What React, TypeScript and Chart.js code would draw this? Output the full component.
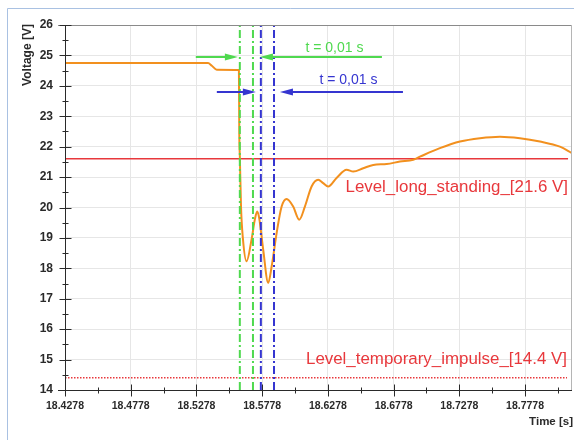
import React, { useEffect, useRef } from "react";
import { Chart, registerables } from "chart.js";
Chart.register(...registerables);

// ---- data ----
const timeTicks = [18.4278, 18.4778, 18.5278, 18.5778, 18.6278, 18.6778, 18.7278, 18.7778];
const voltTicks = [14, 15, 16, 17, 18, 19, 20, 21, 22, 23, 24, 25, 26];
const xRange = [18.4278, 18.8135];
const yRange = [14, 26];

const timeS = [
  18.4278, 18.5366, 18.5395, 18.5433, 18.5601, 18.5604, 18.5608, 18.5617, 18.5631, 18.5659,
  18.5697, 18.5722, 18.574, 18.5755, 18.5786, 18.5824, 18.585, 18.5888, 18.5926, 18.5964,
  18.6014, 18.606, 18.6103, 18.6154, 18.6204, 18.6242, 18.628, 18.6344, 18.642, 18.6471,
  18.6547, 18.6623, 18.6725, 18.6826, 18.6927, 18.6978, 18.713, 18.7283, 18.7435, 18.7587,
  18.7739, 18.7891, 18.8043, 18.8135,
];
const voltageV = [
  24.75, 24.75, 24.66, 24.53, 24.52, 22.4, 21.7, 20.03, 19.0, 18.23,
  18.94, 19.6, 19.87, 19.66, 18.61, 17.52, 18.06, 19.16, 20.03, 20.28,
  20.03, 19.6, 20.03, 20.69, 20.91, 20.8, 20.69, 20.97, 21.24, 21.18,
  21.29, 21.4, 21.43, 21.51, 21.57, 21.67, 21.95, 22.17, 22.28, 22.33,
  22.28, 22.17, 22.0, 21.79,
];

const levelValues = [21.6, 14.4];
const levelEnds = [18.8105, 18.8097];
const levelLabels = ["Level_long_standing_[21.6 V]", "Level_temporary_impulse_[14.4 V]"];
const levelLabelY = [20.65, 15.0];

const greenCursors = [18.5608, 18.5708];
const blueCursors = [18.5768, 18.5868];

const arrowY = [24.95, 23.8]; // green, blue
const arrowInFrom = [18.5273, 18.5433];
const arrowInTo = [18.5593, 18.573];
const arrowOutFrom = [18.6689, 18.6849];
const arrowOutTo = [18.5761, 18.5913];
const arrowLabel = ["t = 0,01 s", "t = 0,01 s"];
const arrowLabelX = [18.6328, 18.6434];
const arrowLabelY = [25.24, 24.19];

const GREEN = "#4fd94f";
const BLUE = "#3535d0";
const RED = "#e8383c";
const ORANGE = "#f2901e";
const FONT = "'Liberation Sans', Arial, sans-serif";

function arrow(ctx: CanvasRenderingContext2D, x1: number, x2: number, y: number, color: string) {
  const dir = x2 > x1 ? 1 : -1;
  const head = 13;
  ctx.save();
  ctx.strokeStyle = color;
  ctx.fillStyle = color;
  ctx.lineWidth = 2;
  ctx.beginPath();
  ctx.moveTo(x1, y);
  ctx.lineTo(x2 - dir * head * 0.8, y);
  ctx.stroke();
  ctx.beginPath();
  ctx.moveTo(x2, y);
  ctx.lineTo(x2 - dir * head, y - 3.5);
  ctx.lineTo(x2 - dir * head, y + 3.5);
  ctx.closePath();
  ctx.fill();
  ctx.restore();
}

const decorPlugin = {
  id: "decor",
  beforeDraw(chart: any) {
    const ctx = chart.ctx as CanvasRenderingContext2D;
    ctx.save();
    ctx.fillStyle = "#ffffff";
    ctx.fillRect(0, 0, chart.width, chart.height);
    ctx.strokeStyle = "#a9c1e2";
    ctx.lineWidth = 1;
    ctx.beginPath();
    ctx.moveTo(7.5, chart.height);
    ctx.lineTo(7.5, 8.5);
    ctx.lineTo(chart.width, 8.5);
    ctx.stroke();
    ctx.restore();
  },
  afterDraw(chart: any) {
    const ctx = chart.ctx as CanvasRenderingContext2D;
    const xs = chart.scales.x;
    const ys = chart.scales.y;
    const { left, right, top, bottom } = chart.chartArea;
    const L = Math.round(left) + 0.5;
    const B = Math.round(bottom) + 0.5;
    ctx.save();
    // frame lines
    ctx.lineWidth = 1;
    ctx.strokeStyle = "#8a8a8a";
    ctx.beginPath();
    ctx.moveTo(left - 7, Math.round(top) + 0.5);
    ctx.lineTo(right, Math.round(top) + 0.5);
    ctx.stroke();
    ctx.strokeStyle = "#b5b5b5";
    ctx.beginPath();
    ctx.moveTo(Math.round(right) - 0.5, top);
    ctx.lineTo(Math.round(right) - 0.5, bottom);
    ctx.stroke();
    // axes
    ctx.strokeStyle = "#2a2a2a";
    ctx.beginPath();
    ctx.moveTo(L, top);
    ctx.lineTo(L, B);
    ctx.moveTo(left - 7, B);
    ctx.lineTo(right, B);
    ctx.stroke();
    // y ticks
    ctx.beginPath();
    for (const v of voltTicks) {
      const p = Math.round(ys.getPixelForValue(v)) + 0.5;
      ctx.moveTo(L - 6, p);
      ctx.lineTo(L + 6, p);
      if (v < yRange[1]) {
        const m = Math.round(ys.getPixelForValue(v + 0.5)) + 0.5;
        ctx.moveTo(L - 3, m);
        ctx.lineTo(L + 3, m);
      }
    }
    // x ticks
    for (let i = 0; i < timeTicks.length; i++) {
      const p = Math.round(xs.getPixelForValue(timeTicks[i])) + 0.5;
      ctx.moveTo(p, B - 6);
      ctx.lineTo(p, B + 6);
      const m = Math.round(xs.getPixelForValue(timeTicks[i] + 0.025)) + 0.5;
      if (m < right) {
        ctx.moveTo(m, B - 3);
        ctx.lineTo(m, B + 3);
      }
    }
    ctx.stroke();
    // axis titles
    ctx.fillStyle = "#2a2a2a";
    ctx.font = `bold 12px ${FONT}`;
    ctx.textAlign = "center";
    ctx.textBaseline = "middle";
    ctx.save();
    ctx.translate(28, 55);
    ctx.rotate(-Math.PI / 2);
    ctx.fillText("Voltage [V]", 0, 0);
    ctx.restore();
    ctx.font = `bold 11.5px ${FONT}`;
    ctx.textAlign = "right";
    ctx.fillText("Time [s]", 573, 422);
    // level labels
    ctx.fillStyle = RED;
    ctx.font = `16.9px ${FONT}`;
    ctx.textAlign = "right";
    for (let i = 0; i < levelLabels.length; i++) {
      ctx.fillText(levelLabels[i], xs.getPixelForValue(levelEnds[i]), ys.getPixelForValue(levelLabelY[i]));
    }
    // arrows
    const colors = [GREEN, BLUE];
    for (let i = 0; i < 2; i++) {
      const y = Math.round(ys.getPixelForValue(arrowY[i]));
      arrow(ctx, xs.getPixelForValue(arrowInFrom[i]), xs.getPixelForValue(arrowInTo[i]), y, colors[i]);
      arrow(ctx, xs.getPixelForValue(arrowOutFrom[i]), xs.getPixelForValue(arrowOutTo[i]), y, colors[i]);
      ctx.fillStyle = colors[i];
      ctx.font = `14px ${FONT}`;
      ctx.textAlign = "center";
      ctx.fillText(arrowLabel[i], xs.getPixelForValue(arrowLabelX[i]), ys.getPixelForValue(arrowLabelY[i]));
    }
    ctx.restore();
  },
};

export default function App() {
  const ref = useRef<HTMLCanvasElement | null>(null);
  useEffect(() => {
    if (!ref.current) return;
    const cursorSets = [
      ...greenCursors.map((c) => ({ c, color: GREEN })),
      ...blueCursors.map((c) => ({ c, color: BLUE })),
    ];
    const chart = new Chart(ref.current, {
      type: "line",
      data: {
        datasets: [
          {
            data: timeS.map((t, i) => ({ x: t, y: voltageV[i] })),
            borderColor: ORANGE,
            borderWidth: 2,
            pointRadius: 0,
            cubicInterpolationMode: "monotone",
            order: 1,
          } as any,
          {
            data: [
              { x: xRange[0], y: levelValues[0] },
              { x: levelEnds[0], y: levelValues[0] },
            ],
            borderColor: RED,
            borderWidth: 1.5,
            pointRadius: 0,
            order: 2,
          },
          {
            data: [
              { x: xRange[0], y: levelValues[1] },
              { x: levelEnds[1], y: levelValues[1] },
            ],
            borderColor: RED,
            borderWidth: 1.5,
            borderDash: [1.5, 1.5],
            pointRadius: 0,
            order: 2,
          },
          ...cursorSets.map((s) => ({
            data: [
              { x: s.c, y: yRange[0] },
              { x: s.c, y: yRange[1] },
            ],
            borderColor: s.color,
            borderWidth: 2,
            borderDash: [8, 3, 2, 3],
            pointRadius: 0,
            order: 0,
          })),
        ],
      },
      options: {
        animation: false,
        responsive: false,
        parsing: false as any,
        layout: { padding: { top: 25, right: 2, left: 0, bottom: 0 } },
        plugins: { legend: { display: false }, tooltip: { enabled: false } },
        scales: {
          x: {
            type: "linear",
            min: xRange[0],
            max: xRange[1],
            afterBuildTicks: (s: any) => {
              s.ticks = timeTicks.map((v) => ({ value: v }));
            },
            afterFit: (s: any) => {
              s.height = 50;
            },
            grid: { color: "#e6e6e6", drawTicks: false },
            border: { display: false },
            ticks: {
              autoSkip: false,
              maxRotation: 0,
              padding: 10,
              color: "#2a2a2a",
              font: { family: FONT, size: 10.5, weight: "bold" },
              callback: (v: any) => Number(v).toFixed(4),
            },
          },
          y: {
            type: "linear",
            min: yRange[0],
            max: yRange[1],
            afterBuildTicks: (s: any) => {
              s.ticks = voltTicks.map((v) => ({ value: v }));
            },
            afterFit: (s: any) => {
              s.width = 65;
            },
            grid: { color: "#e6e6e6", drawTicks: false },
            border: { display: false },
            ticks: {
              autoSkip: false,
              padding: 12,
              color: "#2a2a2a",
              font: { family: FONT, size: 12, weight: "bold" },
              callback: (v: any) => String(v),
            },
          },
        },
      },
      plugins: [decorPlugin],
    });
    return () => chart.destroy();
  }, []);
  return (
    <div style={{ position: "absolute", left: 0, top: 0, width: 574, height: 440 }}>
      <canvas ref={ref} width={574} height={440} style={{ display: "block" }} />
    </div>
  );
}
